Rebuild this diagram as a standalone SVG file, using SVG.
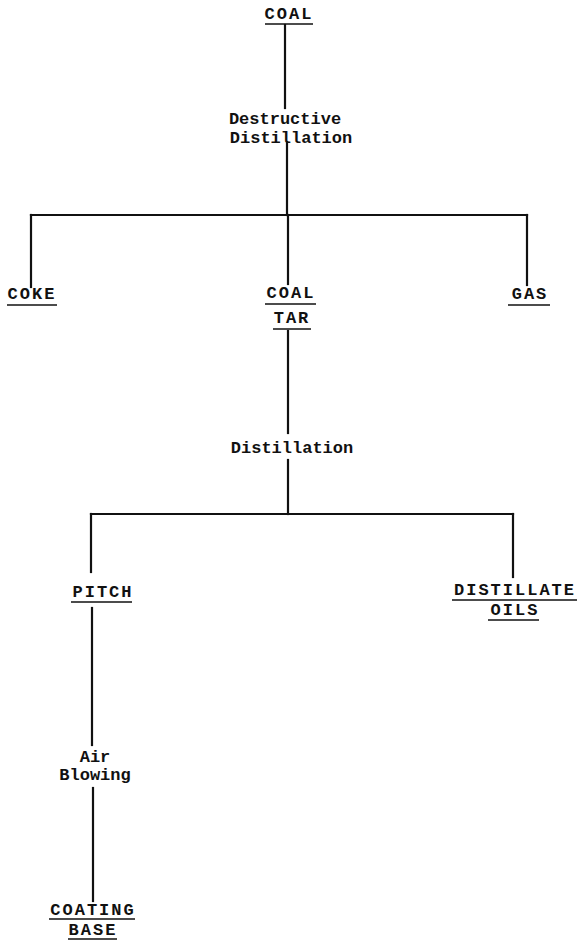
<svg xmlns="http://www.w3.org/2000/svg" width="579" height="941" viewBox="0 0 579 941">
  <style>
    .lbl { font-family: "Liberation Mono", "Courier New", monospace; font-size: 17px; font-weight: bold; fill: #111; text-anchor: middle; }
    .cap { letter-spacing: 2px; }
    .ul { stroke: #111; stroke-width: 1.6; fill: none; }
    .wire { stroke: #111; stroke-width: 2.2; fill: none; stroke-linecap: square; }
  </style>
  <rect width="579" height="941" fill="#fff"/>

  <!-- connectors -->
  <g id="connectors">
    <line class="wire" x1="285" y1="25" x2="285" y2="108"/>
    <line class="wire" x1="287" y1="142" x2="287" y2="215"/>
    <line class="wire" x1="31" y1="215" x2="527" y2="215"/>
    <line class="wire" x1="31" y1="215" x2="31" y2="287"/>
    <line class="wire" x1="288" y1="215" x2="288" y2="284"/>
    <line class="wire" x1="527" y1="215" x2="527" y2="285"/>
    <line class="wire" x1="288" y1="331" x2="288" y2="433"/>
    <line class="wire" x1="288" y1="460" x2="288" y2="514"/>
    <line class="wire" x1="91" y1="514" x2="513" y2="514"/>
    <line class="wire" x1="91" y1="514" x2="91" y2="572"/>
    <line class="wire" x1="513" y1="514" x2="513" y2="577"/>
    <line class="wire" x1="92" y1="608" x2="92" y2="745"/>
    <line class="wire" x1="93" y1="788" x2="93" y2="901"/>
  </g>

  <!-- products -->
  <g id="coal">
    <text class="lbl cap" x="289" y="19">COAL</text>
    <line class="ul" x1="265" y1="24" x2="313" y2="24"/>
  </g>
  <g id="destructive-distillation">
    <text class="lbl" x="285" y="124">Destructive</text>
    <text class="lbl" x="291" y="143">Distillation</text>
  </g>
  <g id="coke">
    <text class="lbl cap" x="32" y="299">COKE</text>
    <line class="ul" x1="7" y1="305" x2="57" y2="305"/>
  </g>
  <g id="coal-tar">
    <text class="lbl cap" x="291" y="298">COAL</text>
    <line class="ul" x1="265" y1="304" x2="316" y2="304"/>
    <text class="lbl cap" x="292" y="323">TAR</text>
    <line class="ul" x1="273" y1="329" x2="311" y2="329"/>
  </g>
  <g id="gas">
    <text class="lbl cap" x="530" y="299">GAS</text>
    <line class="ul" x1="508" y1="305" x2="550" y2="305"/>
  </g>
  <g id="distillation">
    <text class="lbl" x="292" y="453">Distillation</text>
  </g>
  <g id="pitch">
    <text class="lbl cap" x="103" y="597">PITCH</text>
    <line class="ul" x1="71" y1="602" x2="132" y2="602"/>
  </g>
  <g id="distillate-oils">
    <text class="lbl cap" x="515" y="595">DISTILLATE</text>
    <line class="ul" x1="452" y1="600" x2="577" y2="600"/>
    <text class="lbl cap" x="515" y="615">OILS</text>
    <line class="ul" x1="488" y1="620" x2="539" y2="620"/>
  </g>
  <g id="air-blowing">
    <text class="lbl" x="95" y="762">Air</text>
    <text class="lbl" x="95" y="780">Blowing</text>
  </g>
  <g id="coating-base">
    <text class="lbl cap" x="93" y="915">COATING</text>
    <line class="ul" x1="49" y1="919" x2="135" y2="919"/>
    <text class="lbl cap" x="93" y="935">BASE</text>
    <line class="ul" x1="68" y1="939" x2="117" y2="939"/>
  </g>
</svg>
